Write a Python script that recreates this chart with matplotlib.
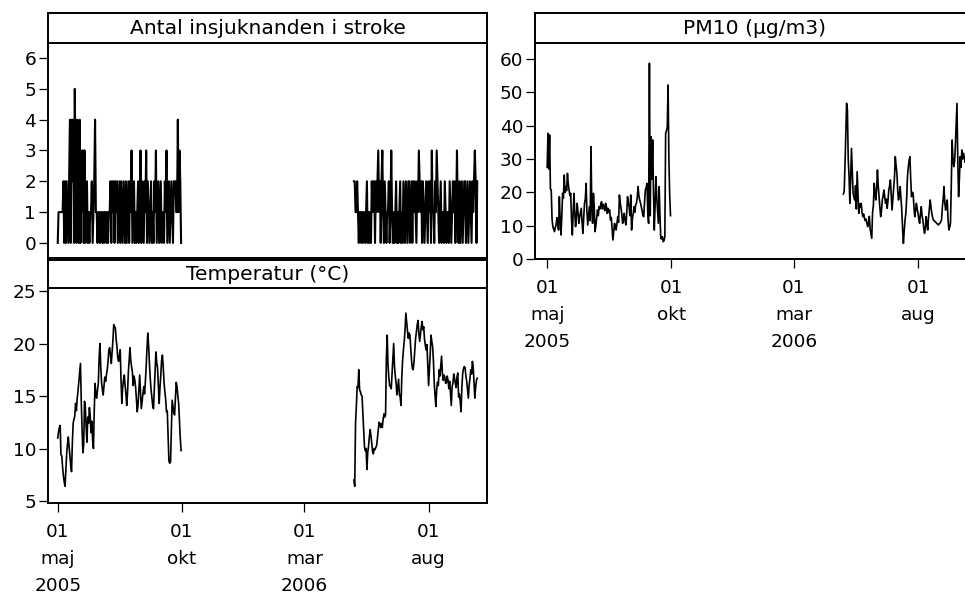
import datetime as dt
import matplotlib
matplotlib.use("Agg")
import matplotlib.pyplot as plt
import matplotlib.dates as mdates
import pandas as pd

# daily values, 1 May - 30 Sep each year
dates05 = pd.date_range("2005-05-01", "2005-09-30", freq="D")
dates06 = pd.date_range("2006-05-01", "2006-09-30", freq="D")

stroke05 = [0, 1, 1, 1, 1, 1, 1, 2, 0, 2,
            0, 2, 1, 0, 2, 4, 0, 4, 2, 4,
            0, 5, 2, 0, 4, 1, 0, 4, 0, 3,
            1, 3, 0, 3, 0, 1, 2, 0, 1, 0,
            1, 1, 2, 0, 1, 2, 4, 1, 1, 0,
            1, 1, 0, 1, 1, 0, 1, 0, 1, 1,
            0, 1, 0, 1, 1, 2, 0, 2, 1, 2,
            0, 2, 1, 2, 0, 1, 2, 0, 2, 1,
            0, 2, 1, 0, 2, 0, 1, 2, 0, 2,
            1, 3, 0, 1, 2, 0, 1, 0, 1, 2,
            0, 1, 3, 0, 2, 1, 0, 2, 1, 3,
            0, 2, 1, 0, 1, 2, 0, 1, 0, 2,
            1, 3, 0, 1, 2, 0, 1, 2, 0, 1,
            1, 0, 2, 1, 3, 0, 1, 2, 0, 1,
            2, 1, 0, 2, 2, 2, 1, 1, 4, 1,
            3, 2, 0]
stroke06 = [2, 2, 1, 1, 2, 1, 0, 1, 1, 0,
            1, 0, 1, 1, 0, 1, 2, 0, 1, 0,
            1, 0, 2, 1, 2, 2, 0, 2, 1, 2,
            3, 1, 2, 0, 2, 3, 1, 0, 2, 1,
            0, 1, 1, 2, 0, 1, 3, 1, 0, 1,
            0, 1, 2, 0, 1, 0, 1, 2, 0, 1,
            0, 2, 1, 0, 2, 1, 0, 2, 2, 0,
            1, 2, 0, 2, 1, 2, 1, 0, 2, 1,
            3, 2, 1, 2, 0, 2, 1, 0, 1, 2,
            1, 0, 2, 1, 2, 0, 3, 1, 1, 0,
            2, 1, 3, 2, 1, 0, 1, 2, 0, 1,
            1, 0, 2, 1, 0, 1, 1, 0, 2, 1,
            0, 1, 2, 1, 2, 0, 1, 3, 1, 0,
            2, 0, 1, 2, 0, 1, 2, 2, 0, 1,
            2, 0, 1, 2, 1, 0, 2, 1, 2, 3,
            2, 0, 2]

temp05 = [11.0, 11.6, 12.0, 12.2, 9.4, 9.3, 8.2, 7.4, 6.8, 6.4,
          8.0, 9.5, 10.4, 11.1, 10.2, 9.2, 8.4, 7.8, 10.5, 12.4,
          12.8, 13.1, 14.3, 13.6, 14.8, 15.5, 16.4, 17.2, 18.1, 14.5,
          11.8, 9.6, 10.4, 14.5, 13.9, 12.0, 10.6, 13.0, 12.4, 13.9,
          13.2, 11.5, 12.6, 10.8, 10.0, 13.6, 16.2, 15.0, 14.8, 15.6,
          16.2, 18.6, 20.0, 17.8, 16.3, 15.6, 15.1, 15.9, 16.8, 16.4,
          17.0, 17.5, 18.3, 19.4, 19.6, 18.9, 18.1, 19.2, 20.3, 21.8,
          21.6, 21.5, 20.4, 19.7, 18.6, 18.3, 18.9, 19.4, 16.5, 14.3,
          15.8, 16.5, 17.0, 16.0, 15.2, 14.1, 15.3, 17.2, 18.4, 19.6,
          18.4, 17.8, 17.3, 16.0, 16.9, 16.5, 15.8, 14.6, 13.5, 14.2,
          15.6, 17.0, 15.4, 13.8, 14.5, 15.2, 15.9, 15.2, 16.4, 17.8,
          19.6, 21.0, 19.8, 18.1, 16.7, 15.6, 14.9, 14.1, 13.8, 15.5,
          17.4, 19.2, 18.2, 17.7, 15.9, 14.3, 15.8, 17.0, 18.4, 18.9,
          17.8, 16.3, 15.4, 14.7, 13.5, 13.6, 11.2, 8.8, 8.6, 8.7,
          11.6, 14.6, 14.0, 13.4, 13.2, 14.8, 16.3, 15.9, 15.0, 14.3,
          12.6, 11.0, 9.8]
temp06 = [7.0, 6.4, 12.4, 14.0, 15.9, 15.8, 17.5, 15.6, 15.4, 15.1,
          15.0, 13.4, 11.6, 10.2, 9.8, 10.0, 8.0, 9.6, 10.2, 11.1,
          11.8, 11.2, 10.5, 9.7, 9.5, 10.0, 9.9, 10.1, 10.3, 11.0,
          11.8, 12.5, 12.3, 12.0, 12.4, 12.0, 12.8, 13.3, 13.0, 13.2,
          18.6, 20.8, 18.0, 16.8, 16.0, 15.9, 15.7, 17.2, 18.5, 20.0,
          17.8, 16.9, 16.2, 15.1, 15.9, 16.6, 15.2, 14.9, 14.1, 16.8,
          18.4, 19.4, 20.2, 21.3, 22.9, 22.0, 21.2, 20.5, 21.0, 20.8,
          19.6, 18.4, 17.6, 17.5, 18.2, 19.4, 20.5, 21.1, 21.8, 22.2,
          21.0, 20.2, 20.9, 21.6, 22.1, 21.3, 21.6, 20.4, 19.8, 19.4,
          19.9, 18.0, 16.0, 17.5, 19.0, 20.8, 20.2, 19.7, 18.3, 16.2,
          15.0, 14.0, 15.6, 16.3, 16.0, 17.5, 16.9, 17.8, 18.8, 17.2,
          16.5, 17.0, 16.8, 16.2, 16.3, 16.9, 16.5, 15.7, 16.4, 15.3,
          14.1, 15.9, 16.2, 17.1, 16.7, 16.2, 15.8, 16.8, 17.2, 14.9,
          15.2, 14.5, 13.5, 15.8, 17.1, 17.6, 17.8, 17.7, 16.9, 16.4,
          15.6, 14.8, 16.0, 16.7, 17.5, 17.1, 18.3, 17.8, 16.2, 14.8,
          15.8, 16.5, 16.7]

pm05 = [27.5, 37.7, 27.0, 37.2, 21.0, 20.7, 12.0, 9.7, 9.0, 8.2,
        9.5, 10.2, 12.4, 11.0, 8.7, 18.7, 12.0, 7.2, 12.5, 19.7,
        18.2, 25.2, 20.0, 21.7, 20.5, 25.7, 22.4, 20.7, 19.0, 19.7,
        12.0, 7.2, 13.5, 19.7, 14.0, 9.7, 12.8, 16.7, 14.0, 10.7,
        12.5, 13.8, 15.2, 11.0, 7.7, 12.5, 16.7, 18.0, 22.7, 14.0,
        10.2, 12.8, 15.7, 11.5, 33.7, 15.0, 10.7, 19.7, 15.5, 8.2,
        10.0, 12.2, 14.7, 13.0, 15.7, 15.0, 16.3, 17.2, 15.0, 16.4,
        15.7, 14.5, 16.7, 15.8, 13.7, 15.2, 14.0, 14.7, 11.7, 12.5,
        9.0, 5.7, 8.2, 10.7, 9.5, 8.7, 10.8, 12.7, 11.0, 19.2,
        17.0, 15.2, 13.4, 10.7, 12.0, 13.7, 11.5, 10.2, 13.5, 18.7,
        17.0, 15.7, 13.0, 19.2, 8.7, 12.0, 13.5, 15.7, 14.0, 16.2,
        16.7, 18.5, 21.7, 19.0, 17.7, 16.8, 15.7, 14.5, 13.0, 12.7,
        17.0, 20.7, 21.5, 22.7, 14.0, 10.7, 58.7, 13.0, 36.7, 24.0,
        35.7, 20.5, 8.7, 16.0, 24.7, 18.7, 14.5, 10.7, 21.7, 13.0,
        6.2, 6.0, 6.7, 5.2, 5.5, 6.7, 37.7, 38.5, 39.7, 52.2,
        30.0, 19.0, 13.0]
pm06 = [19.5, 20.2, 28.0, 37.0, 46.7, 44.7, 30.0, 25.0, 16.7, 24.0,
        33.2, 26.0, 19.7, 18.5, 17.7, 22.0, 15.0, 26.2, 20.0, 13.7,
        16.5, 15.5, 16.7, 14.0, 12.7, 13.5, 12.2, 11.5, 12.0, 10.7,
        9.7, 11.0, 12.8, 9.0, 7.5, 6.2, 14.0, 16.0, 22.7, 20.0,
        17.7, 21.0, 26.7, 22.0, 18.7, 15.5, 12.7, 14.5, 17.7, 19.0,
        20.7, 18.5, 16.7, 18.0, 15.2, 17.5, 20.7, 22.0, 23.7, 19.0,
        14.7, 18.0, 21.7, 24.5, 30.7, 28.0, 25.7, 20.5, 17.7, 19.5,
        21.7, 18.0, 14.7, 9.0, 4.7, 8.5, 11.7, 13.7, 18.0, 24.7,
        27.5, 29.5, 30.7, 24.0, 18.7, 20.0, 19.7, 15.5, 12.7, 14.5,
        16.7, 15.0, 13.7, 12.0, 10.7, 13.5, 15.7, 13.0, 11.7, 9.5,
        7.7, 9.0, 12.7, 10.5, 8.7, 12.5, 15.0, 17.7, 15.5, 13.7,
        12.5, 11.7, 11.5, 11.2, 11.0, 10.7, 10.5, 10.2, 10.5, 10.7,
        11.2, 11.7, 15.5, 18.0, 21.7, 17.0, 14.7, 16.5, 17.7, 12.0,
        8.7, 9.5, 10.7, 22.0, 35.7, 30.5, 27.7, 29.0, 33.7, 40.0,
        46.7, 30.0, 18.7, 24.0, 30.7, 27.5, 32.7, 30.0, 31.7, 30.5,
        29.0, 31.0, 30.0]

tick_dates = [dt.date(2005, 5, 1), dt.date(2005, 10, 1), dt.date(2006, 3, 1), dt.date(2006, 8, 1)]
tick_labels = ["01\nmaj\n2005", "01\nokt", "01\nmar\n2006", "01\naug"]

FS = 13.3
FS_HEAD = 14.6
LW_FRAME = 1.4

fig = plt.figure(figsize=(9.65, 6), dpi=100)


def style(ax):
    for s in ax.spines.values():
        s.set_linewidth(LW_FRAME)
    ax.tick_params(axis="both", length=6.5, width=0.9, labelsize=FS, pad=2)


def header(rect, text):
    hax = fig.add_axes(rect)
    hax.set_xticks([])
    hax.set_yticks([])
    for s in hax.spines.values():
        s.set_linewidth(LW_FRAME)
    hax.text(0.5, 0.48, text, ha="center", va="center", fontsize=FS_HEAD,
             transform=hax.transAxes)
    return hax


def date_axis(ax, xmin, xmax, labels=True):
    ax.set_xlim(xmin, xmax)
    ax.set_xticks([mdates.date2num(d) for d in tick_dates])
    if labels:
        ax.set_xticklabels(tick_labels)
        for t in ax.get_xticklabels():
            t.set_linespacing(1.65)
        ax.tick_params(axis="x", pad=8)
    else:
        ax.tick_params(axis="x", length=0, labelbottom=False)


W, H = 965.0, 600.0
left_x0 = dt.date(2005, 4, 19)
left_x1 = dt.date(2006, 10, 12)

# stroke panel (top left)
ax1 = fig.add_axes([48 / W, 1 - 258 / H, 439 / W, 215 / H])
ax1.plot(dates05, stroke05, color="black", lw=1.5)
ax1.plot(dates06, stroke06, color="black", lw=1.5)
ax1.set_ylim(-0.49, 6.49)
ax1.set_yticks(range(0, 7))
style(ax1)
date_axis(ax1, left_x0, left_x1, labels=False)
header([48 / W, 1 - 43 / H, 439 / W, 30 / H], "Antal insjuknanden i stroke")

# temperature panel (bottom left)
ax2 = fig.add_axes([48 / W, 1 - 503 / H, 439 / W, 215 / H])
ax2.plot(dates05, temp05, color="black", lw=1.2)
ax2.plot(dates06, temp06, color="black", lw=1.2)
ax2.set_ylim(4.81, 25.29)
ax2.set_yticks([5, 10, 15, 20, 25])
style(ax2)
date_axis(ax2, left_x0, left_x1)
header([48 / W, 1 - 288 / H, 439 / W, 28 / H], "Temperatur (°C)")

# PM10 panel (top right, runs past the right edge)
ax3 = fig.add_axes([535 / W, 1 - 259 / H, 439 / W, 216 / H])
ax3.plot(dates05, pm05, color="black", lw=1.2)
ax3.plot(dates06, pm06, color="black", lw=1.2)
ax3.set_ylim(0, 64.8)
ax3.set_yticks(range(0, 61, 10))
style(ax3)
date_axis(ax3, dt.date(2005, 4, 16), dt.date(2006, 10, 9))
header([535 / W, 1 - 43 / H, 439 / W, 30 / H], "PM10 (µg/m3)")

fig.savefig("out.png", dpi=100)
